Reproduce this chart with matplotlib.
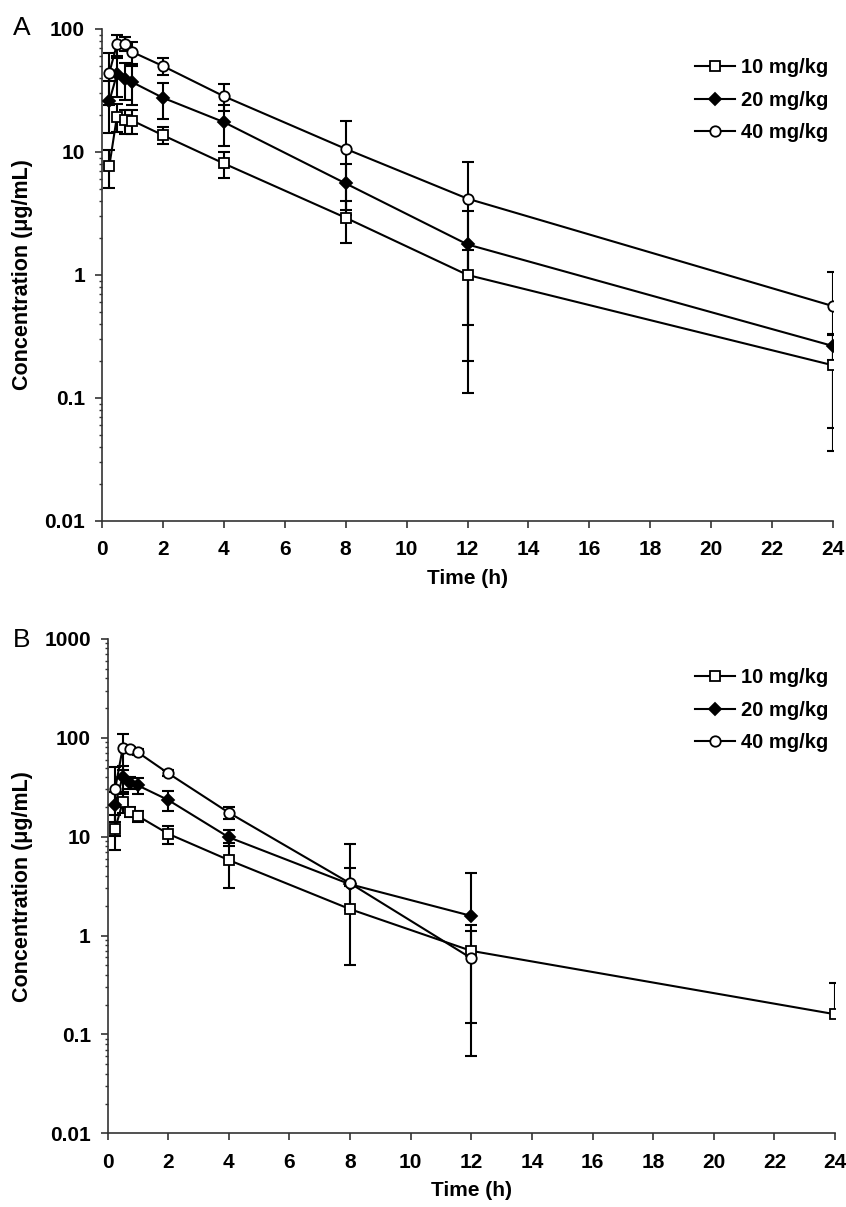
import numpy as np
import matplotlib
matplotlib.use("Agg")
import matplotlib.pyplot as plt
from matplotlib.ticker import FixedLocator, FuncFormatter, LogLocator, NullFormatter

plt.rcParams['font.family'] = ['Liberation Sans', 'DejaVu Sans']

# ---------------- data ----------------
time_h = [0.25, 0.5, 0.75, 1, 2, 4, 8, 12, 24]
dose_labels = ["10 mg/kg", "20 mg/kg", "40 mg/kg"]

# Panel A
a_10_mean = [7.7, 19.4, 18.1, 18.0, 13.7, 8.07, 2.92, 1.0, 0.184]
a_10_sd = [2.6, 5.0, 4.0, 4.0, 2.1, 1.9, 1.1, 0.61, 0.147]
a_20_mean = [25.9, 42.7, 39.4, 36.9, 27.6, 17.5, 5.55, 1.77, 0.264]
a_20_sd = [11.6, 15.0, 13.0, 13.0, 9.0, 6.4, 2.5, 1.57, 0.06]
a_40_mean = [44.0, 75.0, 76.0, 65.0, 50.0, 28.4, 10.6, 4.17, 0.557]
a_40_sd = [20.0, 15.0, 10.0, 13.0, 8.0, 7.0, 7.2, 4.06, 0.5]

# Panel B
b_time_10 = [0.25, 0.5, 0.75, 1, 2, 4, 8, 12, 24]
b_10_mean = [11.9, 22.3, 17.8, 16.2, 10.7, 5.8, 1.85, 0.70, 0.16]
b_10_sd = [4.5, 5.0, 2.0, 2.0, 2.2, 2.8, 1.35, 0.57, 0.17]
b_time_20 = [0.25, 0.5, 0.75, 1, 2, 4, 8, 12]
b_20_mean = [21.0, 40.4, 35.0, 33.0, 23.5, 9.86, 3.3, 1.58]
b_20_sd = [7.0, 12.0, 5.0, 6.0, 5.5, 1.9, 1.5, 2.75]
b_time_40 = [0.25, 0.5, 0.75, 1, 2, 4, 8, 12]
b_40_mean = [30.1, 78.3, 76.6, 71.3, 43.8, 17.5, 3.38, 0.59]
b_40_sd = [20.0, 31.0, 5.0, 5.0, 3.0, 2.4, 5.0, 0.53]

x_ticks = list(range(0, 25, 2))
ya_ticks = [0.01, 0.1, 1, 10, 100]
yb_ticks = [0.01, 0.1, 1, 10, 100, 1000]

W, H = 846, 1207
fig = plt.figure(figsize=(W / 100, H / 100), dpi=100)

def fx(px):
    return px / W

def fy(py):
    return 1 - py / H

axA = fig.add_axes([fx(101.7), fy(521), (833.3 - 101.7) / W, (521 - 28.9) / H])
axB = fig.add_axes([fx(107.5), fy(1133.3), (835 - 107.5) / W, (1133.3 - 638.9) / H])

styles = [dict(marker='s', mfc='white', ms=7),
          dict(marker='D', mfc='black', ms=5.8),
          dict(marker='o', mfc='white', ms=7.5)]

def draw(ax, t, m, sd, style, label):
    t = np.asarray(t, float)
    m = np.asarray(m, float)
    sd = np.asarray(sd, float)
    has_lo = sd < m
    lo_err = np.where(has_lo, sd, 0.0)
    lo = np.where(has_lo, m - sd, np.nan)
    hi = m + sd
    ax.errorbar(t, m, yerr=[lo_err, sd], fmt='none', ecolor='black',
                elinewidth=1.5, capsize=0, zorder=2)
    ax.plot(t, hi, ls='none', marker='_', ms=8.5, mew=1.5, color='black', zorder=2)
    ax.plot(t, lo, ls='none', marker='_', ms=8.5, mew=1.5, color='black', zorder=2)
    line, = ax.plot(t, m, '-', color='black', lw=1.5, marker=style['marker'],
                    mfc=style['mfc'], mec='black', mew=1.3, ms=style['ms'],
                    zorder=3, label=label)
    return line

def fmt(v, pos):
    return '%g' % v

def style_axes(ax, yticks, ylim):
    ax.set_yscale('log')
    ax.set_xlim(0, 24)
    ax.set_ylim(*ylim)
    ax.xaxis.set_major_locator(FixedLocator(x_ticks))
    ax.yaxis.set_major_locator(FixedLocator(yticks))
    ax.yaxis.set_major_formatter(FuncFormatter(fmt))
    ax.yaxis.set_minor_locator(LogLocator(base=10, subs=np.arange(2, 10)))
    ax.yaxis.set_minor_formatter(NullFormatter())
    for s in ['top', 'right']:
        ax.spines[s].set_visible(False)
    for s in ['left', 'bottom']:
        ax.spines[s].set_linewidth(1.2)
        ax.spines[s].set_color('#333333')
    ax.tick_params(axis='both', which='major', direction='out', length=5,
                   width=1.2, labelsize=15, color='#333333')
    ax.tick_params(axis='y', which='major', pad=7)
    ax.tick_params(axis='x', which='major', pad=9)
    ax.tick_params(axis='y', which='minor', direction='out', length=2.5, width=1.0,
                   color='#333333')
    for lab in ax.get_xticklabels() + ax.get_yticklabels():
        lab.set_fontweight('bold')
    ax.set_xlabel('Time (h)', fontsize=15, fontweight='bold', labelpad=7)
    ax.set_ylabel('Concentration (μg/mL)', fontsize=15.5, fontweight='bold')

# Panel A
hA = []
hA.append(draw(axA, time_h, a_10_mean, a_10_sd, styles[0], dose_labels[0]))
hA.append(draw(axA, time_h, a_20_mean, a_20_sd, styles[1], dose_labels[1]))
hA.append(draw(axA, time_h, a_40_mean, a_40_sd, styles[2], dose_labels[2]))
style_axes(axA, ya_ticks, (0.01, 100))
axA.yaxis.set_label_coords((33 - 101.7) / (833.3 - 101.7), 0.5)

# Panel B
hB = []
hB.append(draw(axB, b_time_10, b_10_mean, b_10_sd, styles[0], dose_labels[0]))
hB.append(draw(axB, b_time_20, b_20_mean, b_20_sd, styles[1], dose_labels[1]))
hB.append(draw(axB, b_time_40, b_40_mean, b_40_sd, styles[2], dose_labels[2]))
style_axes(axB, yb_ticks, (0.01, 1000))
axB.yaxis.set_label_coords((33 - 107.5) / (835 - 107.5), 0.5)

leg_kw = dict(frameon=False, prop=dict(weight='bold', size=14.5), handlelength=2.0,
              handletextpad=0.3, labelspacing=0.68, borderpad=0, borderaxespad=0,
              loc='upper left', numpoints=1)
fig.legend(handles=hA, bbox_to_anchor=(fx(695), fy(58)), **leg_kw)
fig.legend(handles=hB, bbox_to_anchor=(fx(695), fy(668)), **leg_kw)

fig.text(fx(22), fy(28), 'A', fontsize=19, ha='center', va='center')
fig.text(fx(22), fy(640), 'B', fontsize=19, ha='center', va='center')

fig.savefig('out.png', dpi=100)
